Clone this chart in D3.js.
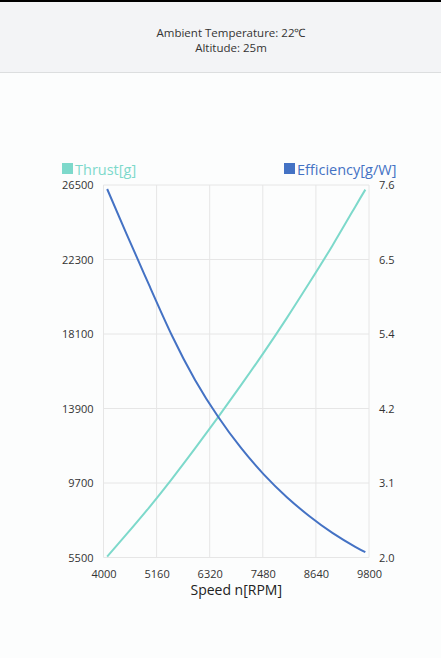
<!DOCTYPE html>
<html>
<head>
<meta charset="utf-8">
<script src="https://cdn.jsdelivr.net/npm/d3@7"></script>
<style>
  html, body { margin: 0; padding: 0; background: #fcfdfd; }
  body { width: 441px; height: 658px; overflow: hidden; font-family: "Open Sans", sans-serif; }
  .topbar { height: 2px; background: #000; }
  .header { height: 71px; background: #f3f4f6; border-bottom: 1px solid #dcdedf; text-align: center;
            font-size: 11.5px; color: #333; line-height: 15px; padding-left: 21px; box-sizing: border-box; width: 441px; }
  .header .inner { padding-top: 23px; }
  .grid line { stroke: #e6e6e6; stroke-width: 1; }
  .tick text { fill: #333; }
</style>
</head>
<body>
<div class="topbar"></div>
<div class="header"><div class="inner">Ambient Temperature: 22&#8451;<br>Altitude: 25m</div></div>
<svg id="chart" width="441" height="584"></svg>
<script>
// values
var speed = [4080, 4500, 5000, 5500, 6000, 6500, 7000, 7500, 8000, 8500, 9000, 9500, 9720];
var thrust = [5550, 6800, 8330, 9950, 11650, 13400, 15200, 17050, 18980, 21000, 23080, 25280, 26240];
var efficiency = [7.54, 6.87, 6.09, 5.33, 4.67, 4.12, 3.65, 3.25, 2.91, 2.62, 2.37, 2.16, 2.08];

var xTicks = [4000, 5160, 6320, 7480, 8640, 9800];
var thrustTicks = [5500, 9700, 13900, 18100, 22300, 26500];
var effTicks = [2.0, 3.12, 4.24, 5.36, 6.48, 7.6]; // shown with one decimal

var svg = d3.select("#chart"),
    top0 = 74; // svg starts below the header
var margin = {left: 103.5, right: 441 - 369, top: 186 - top0, bottom: 584 - (558.5 - top0)};
var width = 441 - margin.left - margin.right,
    height = 584 - margin.top - margin.bottom;

var x = d3.scaleLinear().domain([4000, 9800]).range([0, width]);
var yT = d3.scaleLinear().domain([5500, 26500]).range([height, 0]);
var yE = d3.scaleLinear().domain([2.0, 7.6]).range([height, 0]);

var g = svg.append("g").attr("transform", "translate(" + margin.left + "," + margin.top + ")");

var grid = g.append("g").attr("class", "grid");
grid.selectAll("line.v").data(xTicks).enter().append("line")
    .attr("x1", function(d) { return x(d); }).attr("x2", function(d) { return x(d); })
    .attr("y1", 0).attr("y2", height);
grid.selectAll("line.h").data(thrustTicks).enter().append("line")
    .attr("y1", function(d) { return yT(d); }).attr("y2", function(d) { return yT(d); })
    .attr("x1", 0).attr("x2", width);

var tickFont = "11px";

var xAxis = g.append("g").attr("transform", "translate(0," + height + ")")
    .call(d3.axisBottom(x).tickValues(xTicks).tickSize(0).tickPadding(13).tickFormat(d3.format("d")));
xAxis.select(".domain").remove();
xAxis.selectAll("text").attr("font-size", tickFont).attr("font-family", "Open Sans");

var yLeft = g.append("g")
    .call(d3.axisLeft(yT).tickValues(thrustTicks).tickSize(0).tickPadding(10).tickFormat(d3.format("d")));
yLeft.select(".domain").remove();
yLeft.selectAll("text").attr("font-size", tickFont).attr("font-family", "Open Sans");

var yRight = g.append("g").attr("transform", "translate(" + width + ",0)")
    .call(d3.axisRight(yE).tickValues(effTicks).tickSize(0).tickPadding(10).tickFormat(d3.format(".1f")));
yRight.select(".domain").remove();
yRight.selectAll("text").attr("font-size", tickFont).attr("font-family", "Open Sans");

var thrustLine = d3.line()
    .x(function(d, i) { return x(speed[i]); })
    .y(function(d) { return yT(d); })
    .curve(d3.curveNatural);
var effLine = d3.line()
    .x(function(d, i) { return x(speed[i]); })
    .y(function(d) { return yE(d); })
    .curve(d3.curveNatural);

g.append("path").datum(thrust).attr("d", thrustLine)
    .attr("fill", "none").attr("stroke", "#7dd9cb").attr("stroke-width", 2);
g.append("path").datum(efficiency).attr("d", effLine)
    .attr("fill", "none").attr("stroke", "#4472c4").attr("stroke-width", 2);

// legend
var legend = [
    {name: "Thrust[g]", color: "#7dd9cb", x: 62},
    {name: "Efficiency[g/W]", color: "#4472c4", x: 284}
];
var lg = svg.selectAll("g.legend").data(legend).enter().append("g")
    .attr("class", "legend")
    .attr("transform", function(d) { return "translate(" + d.x + "," + (164 - top0) + ")"; });
lg.append("rect").attr("width", 11).attr("height", 11).attr("fill", function(d) { return d.color; });
lg.append("text").attr("x", 13).attr("y", 11.5)
    .attr("font-size", "14.5px").attr("font-family", "Open Sans")
    .attr("fill", function(d) { return d.color; })
    .text(function(d) { return d.name; });

svg.append("text")
    .attr("x", margin.left + width / 2).attr("y", 596 - top0)
    .attr("text-anchor", "middle").attr("font-size", "14px").attr("font-family", "Open Sans")
    .attr("fill", "#222")
    .text("Speed n[RPM]");
</script>
</body>
</html>
